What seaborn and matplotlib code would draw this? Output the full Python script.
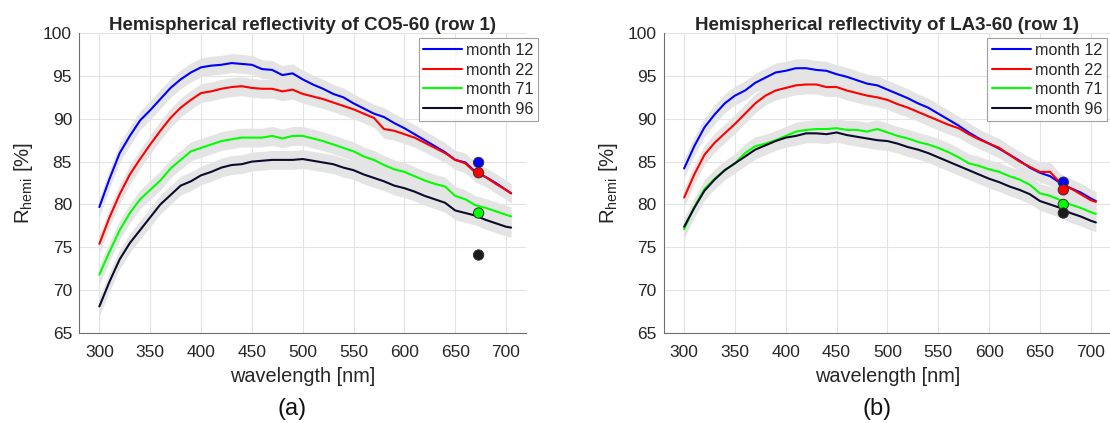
import numpy as np
import pandas as pd
import matplotlib
matplotlib.use("Agg")
import matplotlib.pyplot as plt
import seaborn as sns

# wavelength grid [nm]
wavelength = [300, 310, 320, 330, 340, 350, 360, 370, 380, 390, 400, 410, 420, 430, 440,
              450, 460, 470, 480, 490, 500, 510, 520, 530, 540, 550, 560, 570, 580, 590,
              600, 610, 620, 630, 640, 650, 660, 670, 680, 690, 700, 705]
months = ["month 12", "month 22", "month 71", "month 96"]
colors = ["#0000ff", "#ff0000", "#00ff00", "#0b0b2b"]
dot_colors = ["#0000ff", "#ff0000", "#00ff00", "#1c1c1c"]
dot_wl = 673

# CO5-60 (a)
co5_m12 = [79.7, 83.0, 86.0, 88.0, 89.8, 91.0, 92.3, 93.6, 94.6, 95.4, 96.0, 96.2, 96.3, 96.5,
           96.4, 96.3, 95.8, 95.7, 95.1, 95.3, 94.6, 94.0, 93.5, 92.9, 92.5, 91.8, 91.2, 90.6,
           90.2, 89.5, 88.9, 88.2, 87.5, 86.8, 86.1, 85.2, 84.9, 83.8, 83.2, 82.5, 81.7, 81.3]
co5_m22 = [75.4, 78.5, 81.2, 83.5, 85.3, 87.0, 88.6, 90.1, 91.3, 92.2, 93.0, 93.2, 93.5, 93.7,
           93.8, 93.6, 93.5, 93.5, 93.2, 93.4, 92.9, 92.6, 92.3, 91.9, 91.5, 91.1, 90.6, 90.1,
           88.8, 88.6, 88.2, 87.8, 87.2, 86.6, 86.0, 85.2, 84.8, 83.7, 83.2, 82.4, 81.7, 81.3]
co5_m71 = [71.8, 74.5, 77.0, 79.0, 80.6, 81.7, 82.8, 84.2, 85.2, 86.2, 86.6, 87.0, 87.4, 87.6,
           87.8, 87.8, 87.8, 88.0, 87.7, 88.0, 88.0, 87.7, 87.4, 87.0, 86.6, 86.2, 85.6, 85.2,
           84.6, 84.1, 83.8, 83.3, 82.8, 82.4, 82.1, 81.0, 80.6, 79.9, 79.6, 79.2, 78.8, 78.6]
co5_m96 = [68.1, 71.0, 73.6, 75.5, 77.0, 78.5, 80.0, 81.1, 82.2, 82.7, 83.4, 83.8, 84.3, 84.6,
           84.7, 85.0, 85.1, 85.2, 85.2, 85.2, 85.3, 85.1, 84.9, 84.7, 84.3, 84.0, 83.5, 83.1,
           82.7, 82.2, 81.9, 81.5, 81.0, 80.6, 80.2, 79.3, 79.0, 78.7, 78.2, 77.8, 77.4, 77.3]
co5_dots = [84.9, 83.7, 79.0, 74.1]

# LA3-60 (b)
la3_m12 = [84.2, 86.8, 89.0, 90.5, 91.8, 92.7, 93.3, 94.2, 94.8, 95.4, 95.6, 95.9, 95.9, 95.7,
           95.6, 95.2, 94.9, 94.5, 94.1, 93.9, 93.4, 92.9, 92.4, 91.8, 91.3, 90.6, 89.9, 89.2,
           88.4, 87.7, 87.1, 86.5, 85.8, 85.1, 84.3, 83.7, 83.3, 82.5, 81.9, 81.4, 80.7, 80.4]
la3_m22 = [80.8, 83.5, 85.8, 87.2, 88.3, 89.4, 90.6, 91.8, 92.7, 93.3, 93.6, 93.9, 94.0, 94.0,
           93.7, 93.7, 93.3, 93.0, 92.7, 92.5, 92.2, 91.7, 91.3, 90.8, 90.3, 89.8, 89.3, 88.9,
           88.2, 87.6, 87.1, 86.6, 85.8, 85.0, 84.4, 83.8, 83.8, 82.5, 81.9, 81.2, 80.5, 80.3]
la3_m71 = [77.1, 79.7, 81.8, 83.0, 84.0, 84.8, 86.0, 86.8, 87.1, 87.5, 88.0, 88.5, 88.7, 88.8,
           88.8, 88.9, 88.7, 88.7, 88.5, 88.8, 88.4, 88.0, 87.7, 87.3, 87.0, 86.6, 86.1, 85.5,
           84.8, 84.5, 84.1, 83.8, 83.3, 82.9, 82.3, 81.3, 81.0, 80.5, 80.0, 79.6, 79.1, 78.9]
la3_m96 = [77.4, 79.6, 81.6, 82.9, 84.0, 84.8, 85.6, 86.4, 86.9, 87.4, 87.8, 88.0, 88.3, 88.3,
           88.2, 88.4, 88.1, 87.9, 87.7, 87.5, 87.4, 87.1, 86.7, 86.4, 86.0, 85.5, 85.0, 84.5,
           84.0, 83.5, 83.0, 82.6, 82.1, 81.7, 81.2, 80.4, 80.0, 79.6, 79.0, 78.6, 78.1, 77.9]
la3_dots = [82.6, 81.7, 80.0, 79.0]

BAND = 1.1  # half width of the grey uncertainty band [%]

sns.set_style("white")
plt.rcParams["font.family"] = ["Liberation Sans", "DejaVu Sans"]
plt.rcParams["mathtext.fontset"] = "custom"
plt.rcParams["mathtext.rm"] = "Liberation Sans"

fig = plt.figure(figsize=(11.1, 4.23), dpi=100)
ax_a = fig.add_axes([0.0712, 0.2128, 0.403, 0.709])
ax_b = fig.add_axes([0.598, 0.2128, 0.403, 0.709])

panels = [
    (ax_a, "CO5-60", [co5_m12, co5_m22, co5_m71, co5_m96], co5_dots, "(a)", 1.027),
    (ax_b, "LA3-60", [la3_m12, la3_m22, la3_m71, la3_m96], la3_dots, "(b)", 0.991),
]

for ax, sample, series, dots, tag, leg_x in panels:
    df = pd.concat([pd.DataFrame({"wavelength": wavelength, "R": vals, "month": m})
                    for m, vals in zip(months, series)], ignore_index=True)
    for vals in series:
        v = np.array(vals)
        ax.fill_between(wavelength, v - BAND, v + BAND, color="#e4e4e4", lw=0, zorder=1)
    sns.lineplot(data=df, x="wavelength", y="R", hue="month", palette=colors,
                 hue_order=months, lw=1.5, ax=ax, zorder=3)
    dd = pd.DataFrame({"wavelength": [dot_wl] * 4, "R": dots, "month": months})
    sns.scatterplot(data=dd, x="wavelength", y="R", hue="month", palette=dot_colors,
                    hue_order=months, s=55, edgecolor="#333333", linewidth=0.7,
                    legend=False, ax=ax, zorder=4)

    ax.set_xlim(280, 720)
    ax.set_ylim(65, 100)
    ax.set_xticks(range(300, 701, 50))
    ax.set_yticks(range(65, 101, 5))
    ax.grid(True, color="#e3e3e3", lw=0.8)
    ax.set_axisbelow(True)
    for s in ["top", "right"]:
        ax.spines[s].set_visible(False)
    for s in ["left", "bottom"]:
        ax.spines[s].set_color("#6e6e6e")
        ax.spines[s].set_linewidth(0.8)
    ax.tick_params(axis="both", labelsize=12.5, labelcolor="#262626", color="#6e6e6e",
                   direction="in", length=3, width=0.8)
    ax.tick_params(axis="x", pad=9)
    ax.tick_params(axis="y", pad=5)
    ax.set_title(f"Hemispherical reflectivity of {sample} (row 1)", fontsize=13.5,
                 fontweight="bold", pad=2)
    ax.set_xlabel("wavelength [nm]", fontsize=14.3, color="#262626")
    ax.xaxis.set_label_coords(0.5, -0.112)
    ax.set_ylabel(r"R$_\mathregular{hemi}$ [%]", fontsize=14.7, color="#262626")
    ax.yaxis.set_label_coords(-0.098, 0.5)
    ax.text(0.476, -0.255, tag, transform=ax.transAxes, ha="center", va="center",
            fontsize=17, color="#111111")
    leg = ax.legend(loc="upper right", bbox_to_anchor=(leg_x, 0.983), fontsize=11.6,
                    frameon=True, fancybox=False, borderaxespad=0, handlelength=2.4,
                    handletextpad=0.25, labelspacing=0.28, borderpad=0.3)
    leg.get_frame().set_edgecolor("#8a8a8a")
    leg.get_frame().set_linewidth(0.8)
    leg.set_title(None)

fig.savefig("out.png", dpi=100)
